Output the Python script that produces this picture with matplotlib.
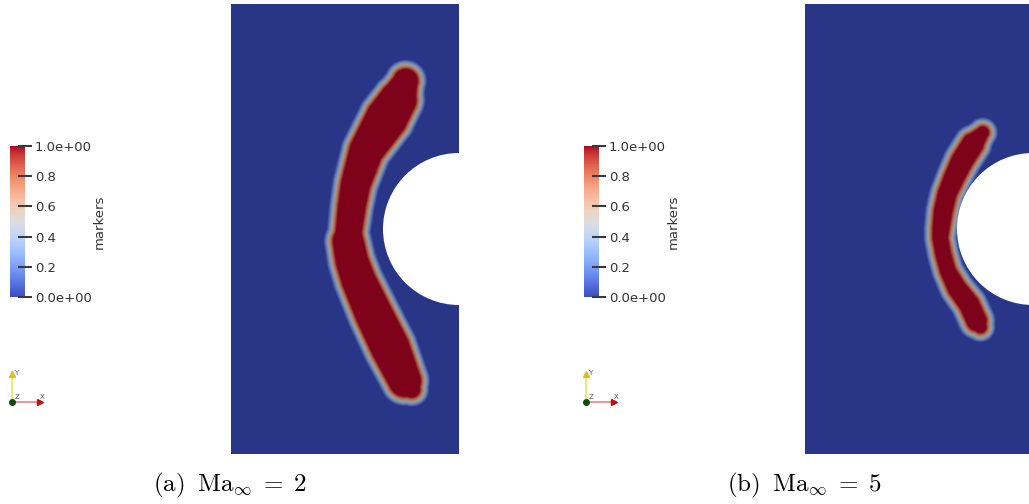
import numpy as np
import matplotlib.pyplot as plt
from matplotlib import colormaps
from matplotlib.colors import ListedColormap, Normalize
from matplotlib.cm import ScalarMappable
from matplotlib.patches import Circle

plt.rcParams['mathtext.fontset'] = 'cm'

# shock marker band (cylinder radius = 1, centre at origin)
# Ma = 2
shock_a_x = [-0.70, -0.80, -0.95, -1.22, -1.36, -1.41, -1.45, -1.46, -1.41, -1.32, -1.12, -0.90, -0.71, -0.62]
shock_a_y = [1.95, 1.70, 1.46, 1.03, 0.59, 0.30, -0.03, -0.16, -0.42, -0.68, -1.12, -1.57, -2.00, -2.11]
shock_a_hw = [0.22, 0.30, 0.33, 0.28, 0.25, 0.24, 0.23, 0.26, 0.27, 0.28, 0.30, 0.31, 0.27, 0.17]
# Ma = 5
shock_b_x = [-0.66, -0.79, -0.93, -1.04, -1.13, -1.18, -1.21, -1.22, -1.18, -1.12, -1.00, -0.84, -0.74, -0.69]
shock_b_y = [1.27, 1.12, 0.90, 0.67, 0.46, 0.24, 0.01, -0.12, -0.33, -0.55, -0.78, -0.99, -1.21, -1.29]
shock_b_hw = [0.14, 0.20, 0.20, 0.19, 0.18, 0.18, 0.17, 0.16, 0.16, 0.16, 0.18, 0.19, 0.19, 0.14]

captions = [r'$\mathrm{(a)\;\;Ma}_{\infty}\;=\;2$', r'$\mathrm{(b)\;\;Ma}_{\infty}\;=\;5$']
cbar_ticks = [0.0, 0.2, 0.4, 0.6, 0.8, 1.0]
cbar_labels = ['0.0e+00', '0.2', '0.4', '0.6', '0.8', '1.0e+00']

x_min, x_max = -3.0, 0.0
y_min, y_max = -2.96, 2.96

W, H = 1029, 504
fig = plt.figure(figsize=(W / 100, H / 100), dpi=100)


def px_axes(x0, y0, x1, y1):
    return fig.add_axes([x0 / W, 1 - y1 / H, (x1 - x0) / W, (y1 - y0) / H])


def marker_field(cx, cy, hw, X, Y, ramp=0.13):
    """Distance to the shock centre line -> smooth 0..1 marker value."""
    best = np.full(X.shape, -np.inf)
    for i in range(len(cx) - 1):
        dx, dy = cx[i + 1] - cx[i], cy[i + 1] - cy[i]
        t = ((X - cx[i]) * dx + (Y - cy[i]) * dy) / (dx * dx + dy * dy)
        t = np.clip(t, 0, 1)
        d = np.hypot(X - cx[i] - t * dx, Y - cy[i] - t * dy)
        w = hw[i] + t * (hw[i + 1] - hw[i])
        best = np.maximum(best, w - d)
    return np.clip(0.5 + best / ramp, 0, 1)


base = colormaps['coolwarm']
field_cmap = ListedColormap(base(np.linspace(0, 1, 256))[:, :3] * 0.70)

xs = np.linspace(x_min, x_max, 450)
ys = np.linspace(y_min, y_max, 890)
X, Y = np.meshgrid(xs, ys)

panels = [
    (shock_a_x, shock_a_y, shock_a_hw, 0),
    (shock_b_x, shock_b_y, shock_b_hw, 574),
]

for k, (sx, sy, shw, off) in enumerate(panels):
    # domain
    ax = px_axes(231 + off, 4, 459 + off, 454)
    F = marker_field(sx, sy, shw, X, Y)
    ax.imshow(F, extent=(x_min, x_max, y_min, y_max), origin='lower',
              cmap=field_cmap, vmin=0, vmax=1, interpolation='bilinear', aspect='auto')
    ax.add_patch(Circle((0, 0), 1.0, facecolor='white', edgecolor='none', zorder=3))
    ax.set_xlim(x_min, x_max)
    ax.set_ylim(y_min, y_max)
    ax.axis('off')

    # colour bar
    cax = px_axes(10 + off, 146, 25 + off, 297)
    sm = ScalarMappable(norm=Normalize(0, 1), cmap=base)
    cb = fig.colorbar(sm, cax=cax, ticks=cbar_ticks)
    cb.outline.set_visible(False)
    cb.ax.set_yticklabels(cbar_labels)
    cb.ax.tick_params(direction='inout', length=10, width=1.5, colors='#3a3a3a',
                      labelsize=9.5, pad=2, labelcolor='#333333')
    cb.set_label('markers', fontsize=9.5, color='#333333', labelpad=1)

    # orientation triad
    tax = px_axes(0 + off, 360, 60 + off, 412)
    tax.set_xlim(0, 60)
    tax.set_ylim(412, 360)
    tax.axis('off')
    tax.plot([12, 12], [402, 374], color='#f0e060', lw=1.2)
    tax.plot([12], [374], marker='^', color='#d8c020', ms=4)
    tax.plot([12, 40], [402, 402], color='#f08080', lw=1.2)
    tax.plot([40], [402], marker='>', color='#c01010', ms=4)
    tax.plot([12], [402], marker='o', color='#104a10', ms=4)
    tax.text(14, 373, 'Y', fontsize=5, color='#555555', va='center')
    tax.text(40, 397, 'X', fontsize=5, color='#555555', va='center')
    tax.text(15, 397, 'Z', fontsize=5, color='#555555', va='center')

    # caption
    fig.text((230 + off) / W, 1 - 485 / H, captions[k], fontsize=18,
             ha='center', va='center')

fig.savefig('out.png', dpi=100)
